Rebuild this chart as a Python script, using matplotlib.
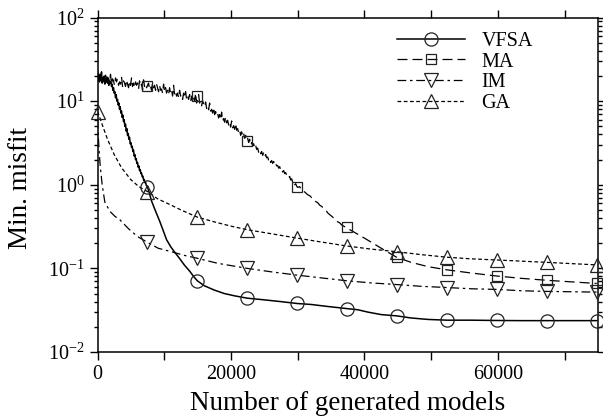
import matplotlib

matplotlib.use("Agg")
import matplotlib.pyplot as plt
from matplotlib.lines import Line2D
from matplotlib.ticker import MultipleLocator, LogLocator

plt.rcParams["font.family"] = ["Liberation Serif", "DejaVu Serif"]
plt.rcParams["mathtext.fontset"] = "custom"
plt.rcParams["mathtext.rm"] = "Liberation Serif"
plt.rcParams["mathtext.default"] = "regular"
plt.rcParams["axes.unicode_minus"] = False

# ---- data ----
# VFSA: noisy start sampled every 100 models, then smooth tail
vfsa_noisy_step = 100
vfsa_noisy_y = [
    23.0, 18.5, 21.0, 17.0, 20.5, 18.0, 22.0, 16.5, 19.0, 17.5,
    20.0, 16.0, 18.5, 17.0, 19.5, 16.5, 18.0, 15.5, 17.5, 16.5,
    17.0, 15.0, 16.0, 13.5, 14.5, 12.5, 13.0, 11.0, 12.0, 10.0,
    10.5, 9.0, 9.5, 8.0, 8.6, 7.2, 7.6, 6.4, 6.8, 5.7,
    6.0, 5.0, 5.3, 4.4, 4.7, 3.9, 4.1, 3.5, 3.7, 3.1,
    3.2, 2.8, 2.9, 2.5, 2.6, 2.2, 2.3, 2.0, 2.05, 1.8,
    1.85, 1.62, 1.68, 1.48, 1.52, 1.36, 1.38, 1.25, 1.27, 1.14,
    1.16, 1.06, 1.08, 0.99, 0.97,
]
vfsa_tail_x = [7480, 7800, 8100, 8500, 8860, 9300, 9800, 10350, 11000, 11600,
               12340, 13000, 13840, 14400, 14960, 16000, 17500, 19000, 20500,
               22440, 25000, 27500, 29920, 32000, 34500, 37400, 39000, 40500,
               42500, 44880, 47000, 49500, 52360, 56000, 59840, 63500, 67320,
               71000, 74800]
vfsa_tail_y = [0.95, 0.78, 0.64, 0.53, 0.45, 0.37, 0.29, 0.22, 0.18, 0.155,
               0.13, 0.11, 0.092, 0.08, 0.071, 0.062, 0.055, 0.05, 0.047,
               0.044, 0.042, 0.04, 0.038, 0.037, 0.035, 0.033, 0.032, 0.030,
               0.028, 0.027, 0.0255, 0.0245, 0.024, 0.024, 0.0238, 0.0237,
               0.0237, 0.0237, 0.0237]

# MA: noisy start sampled every 150 models, then smoother tail
ma_noisy_step = 150
ma_noisy_y = [
    21.0, 17.5, 20.0, 18.0, 22.5, 16.5, 19.5, 17.0, 20.5, 18.0,
    16.5, 19.0, 17.0, 21.0, 16.0, 18.5, 17.5, 15.5, 19.0, 17.0,
    18.5, 15.5, 17.0, 16.0, 19.5, 15.0, 17.5, 16.5, 15.0, 18.0,
    16.0, 14.5, 17.5, 15.5, 19.0, 15.0, 16.5, 14.5, 17.0, 15.5,
    16.5, 14.0, 17.5, 15.0, 16.0, 13.5, 18.0, 15.0, 16.0, 14.5,
    15.5, 16.5, 14.0, 15.0, 13.5, 16.5, 14.5, 15.5, 13.5, 16.0,
    14.5, 13.0, 15.5, 13.5, 14.0, 12.5, 16.0, 13.0, 14.5, 12.5,
    13.5, 12.0, 14.5, 12.5, 13.5, 11.5, 15.5, 12.0, 13.0, 11.5,
    12.5, 11.0, 13.5, 11.5, 12.0, 10.5, 12.5, 11.0, 13.0, 10.5,
    11.5, 10.5, 12.0, 10.0, 11.5, 9.8, 11.0, 10.0, 12.5, 9.5,
    10.5, 12.0, 9.5, 10.0, 8.8, 10.2, 9.2, 8.6, 9.8, 8.2,
    8.8, 7.9, 9.5, 7.6, 8.0, 7.2, 8.4, 6.9, 7.5, 6.8,
    7.2, 6.3, 6.9, 6.0, 7.4, 5.8, 6.2, 5.6, 6.5, 5.5,
    5.9, 5.2, 5.6, 4.9, 5.8, 4.8, 5.1, 4.6, 5.4, 4.5,
    4.7, 4.2, 4.5, 3.9, 4.3, 3.8, 4.1, 3.6, 3.9, 3.4,
    3.6, 3.2, 3.5, 3.0, 3.2, 2.9, 3.1, 2.75, 2.95, 2.65,
    2.75, 2.45, 2.6, 2.35, 2.5, 2.25, 2.4, 2.15, 2.3, 2.1,
    2.15, 1.95, 2.05, 1.85, 1.95, 1.8, 1.9, 1.72, 1.8, 1.68,
    1.7, 1.58, 1.65, 1.5, 1.55, 1.42, 1.48, 1.36, 1.4, 1.3,
    1.32, 1.22, 1.26, 1.14, 1.18, 1.07, 1.1, 1.0, 1.03, 0.96,
]
ma_tail_x = [30000, 30300, 30600, 30900, 31200, 31500, 31800, 32100, 32400,
             32700, 33000, 33300, 33600, 33900, 34200, 34500, 34800, 35100,
             35400, 35700, 36000, 36300, 36600, 36900, 37200, 38500, 40000,
             41250, 43000, 44880, 47000, 49500, 52360, 56000, 59840, 63500,
             67320, 71000, 74800]
ma_tail_y = [0.93, 0.95, 0.86, 0.84, 0.8, 0.76, 0.74, 0.70, 0.68,
             0.63, 0.61, 0.57, 0.55, 0.52, 0.50, 0.46, 0.44, 0.42,
             0.40, 0.38, 0.36, 0.35, 0.33, 0.32, 0.31, 0.27, 0.23,
             0.20, 0.165, 0.135, 0.118, 0.105, 0.096, 0.088, 0.081, 0.076,
             0.072, 0.069, 0.066]

# IM
im_x = [0, 100, 250, 400, 700, 1100, 1870, 2600, 3370, 4610, 6000, 7480, 9100,
        11100, 13000, 14960, 18000, 22440, 26000, 29920, 33500, 37400, 41000,
        44880, 48500, 52360, 56000, 59840, 63500, 67320, 71000, 74800]
im_y = [6.0, 4.0, 2.5, 1.7, 1.0, 0.62, 0.48, 0.42, 0.38, 0.30, 0.24, 0.205, 0.174,
        0.158, 0.143, 0.132, 0.115, 0.1, 0.091, 0.083, 0.077, 0.071, 0.067,
        0.064, 0.061, 0.059, 0.057, 0.056, 0.054, 0.053, 0.0525, 0.052]

# GA
ga_x = [0, 300, 800, 1500, 2500, 3600, 5000, 6200, 7480, 9000, 10850, 12500,
        14960, 17500, 20000, 22440, 26000, 29920, 33000, 37400, 41000, 44880,
        48500, 52360, 56000, 59840, 63500, 67320, 71000, 74800]
ga_y = [7.5, 6.5, 5.0, 3.5, 2.3, 1.6, 1.15, 0.95, 0.83, 0.68, 0.58, 0.5,
        0.41, 0.36, 0.32, 0.29, 0.26, 0.23, 0.21, 0.185, 0.17, 0.158,
        0.146, 0.136, 0.13, 0.126, 0.122, 0.118, 0.114, 0.11]

# symbol positions
mark_x = [7480, 14960, 22440, 29920, 37400, 44880, 52360, 59840, 67320, 74800]
vfsa_mark = [0.95, 0.071, 0.044, 0.038, 0.033, 0.027, 0.024, 0.0238, 0.0237, 0.0237]
ma_mark = [15.2, 11.6, 3.34, 0.95, 0.31, 0.135, 0.096, 0.081, 0.072, 0.066]
im_mark = [0.205, 0.132, 0.1, 0.083, 0.071, 0.064, 0.059, 0.056, 0.053, 0.052]
ga_mark_x = [0] + mark_x
ga_mark = [7.5, 0.83, 0.41, 0.29, 0.23, 0.185, 0.158, 0.136, 0.126, 0.118, 0.11]

vfsa_x = [i * vfsa_noisy_step for i in range(len(vfsa_noisy_y))] + vfsa_tail_x
vfsa_y = vfsa_noisy_y + vfsa_tail_y
ma_x = [i * ma_noisy_step for i in range(len(ma_noisy_y))] + ma_tail_x
ma_y = ma_noisy_y + ma_tail_y

series = [
    ("VFSA", vfsa_x, vfsa_y, mark_x, vfsa_mark, "-", "o", 9.5, 1.1),
    ("MA", ma_x, ma_y, mark_x, ma_mark, (0, (8, 4)), "s", 7.5, 0.9),
    ("IM", im_x, im_y, mark_x, im_mark, (0, (7, 3, 2, 3)), "v", 9.5, 0.9),
    ("GA", ga_x, ga_y, ga_mark_x, ga_mark, (0, (3, 2)), "^", 9.5, 0.9),
]

fig = plt.figure(figsize=(6.03, 4.19), dpi=100)
ax = fig.add_axes([0.1617, 0.16, 0.83, 0.798])

handles = []
for name, x, y, mx, my, ls, mk, ms, lw in series:
    ax.plot(x, y, color="black", linestyle=ls, linewidth=lw)
    ax.plot(mx, my, linestyle="none", marker=mk, markersize=ms,
            markerfacecolor="none", markeredgecolor="#222222",
            markeredgewidth=0.9, clip_on=False, zorder=3)
    handles.append(Line2D([], [], color="black", linestyle=ls, linewidth=lw,
                          marker=mk, markersize=ms, markerfacecolor="none",
                          markeredgecolor="#222222", markeredgewidth=0.9))

ax.set_yscale("log")
ax.set_xlim(0, 75000)
ax.set_ylim(1e-2, 1e2)

ax.xaxis.set_major_locator(MultipleLocator(20000))
ax.xaxis.set_minor_locator(MultipleLocator(10000))
ax.yaxis.set_major_locator(LogLocator(base=10, numticks=10))
ax.yaxis.set_minor_locator(LogLocator(base=10, subs=range(2, 10), numticks=20))

ax.tick_params(which="both", direction="out", top=True, right=True,
               width=1.0, labelsize=14.5)
ax.tick_params(which="major", length=6)
ax.tick_params(axis="y", which="minor", length=3)
ax.tick_params(axis="x", which="minor", length=6)
for s in ax.spines.values():
    s.set_linewidth(1.1)

ax.set_xlabel("Number of generated models", fontsize=19.5, labelpad=5)
ax.set_ylabel("Min. misfit", fontsize=19.5)
ax.yaxis.set_label_coords(-0.128, 0.49)

ax.legend(handles=handles, labels=[s[0] for s in series], loc="upper left",
          bbox_to_anchor=(0.57, 1.0), frameon=False, fontsize=14.5,
          handlelength=3.4, labelspacing=0.08, handletextpad=0.8,
          borderpad=0.2)

plt.savefig("out.png", dpi=100)
